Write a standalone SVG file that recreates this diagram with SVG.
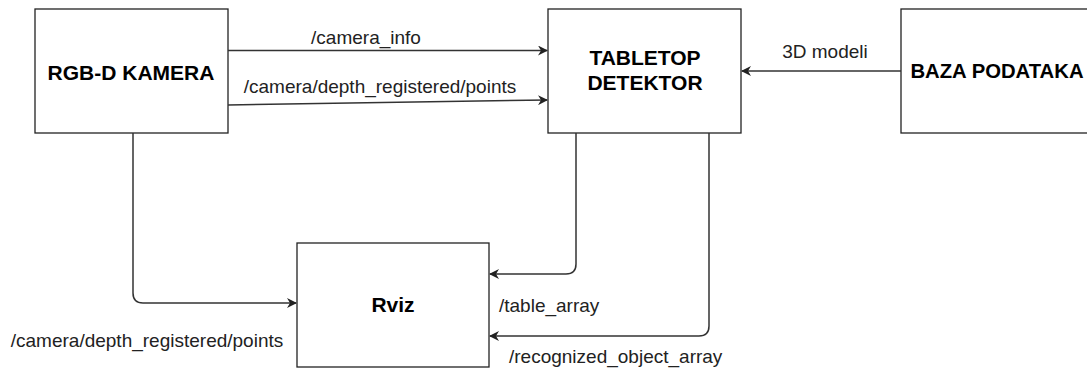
<svg xmlns="http://www.w3.org/2000/svg" width="1087" height="369" viewBox="0 0 1087 369">
<style>
.box{fill:#fff;stroke:#222;stroke-width:1.3}
.title{font-family:"Liberation Sans",Arial,sans-serif;font-weight:bold;font-size:21px;fill:#000;text-anchor:middle}
.lbl{font-family:"Liberation Sans",Arial,sans-serif;font-size:19px;fill:#222}
.edge{fill:none;stroke:#333;stroke-width:1.5}
</style>
<defs>
<marker id="arr" viewBox="0 0 10 10" refX="9" refY="5" markerWidth="10" markerHeight="10" markerUnits="userSpaceOnUse" orient="auto">
<path d="M0,0 L10,5 L0,10 L3,5 Z" fill="#222"/>
</marker>
</defs>
<rect width="1087" height="369" fill="#fff"/>
<g id="rgbd">
<rect class="box" x="35" y="9" width="193" height="124"/>
<text class="title" x="131" y="80">RGB-D KAMERA</text>
</g>
<g id="tabletop">
<rect class="box" x="548" y="9" width="193" height="124"/>
<text class="title" x="645" y="65">TABLETOP</text>
<text class="title" x="645" y="90">DETEKTOR</text>
</g>
<g id="baza">
<rect class="box" x="901" y="9" width="193" height="124"/>
<text class="title" x="997" y="78" style="font-size:20.3px">BAZA PODATAKA</text>
</g>
<g id="rviz">
<rect class="box" x="297" y="243" width="192" height="124"/>
<text class="title" x="393" y="312">Rviz</text>
</g>
<g id="connectors">
<path class="edge" d="M228,50.5 H547" marker-end="url(#arr)"/>
<path class="edge" d="M228,105 L547,100" marker-end="url(#arr)"/>
<path class="edge" d="M901,71 H742" marker-end="url(#arr)"/>
<path class="edge" d="M133,133 V293 Q133,303 143,303 H296" marker-end="url(#arr)"/>
<path class="edge" d="M576,133 V264 Q576,274 566,274 H490" marker-end="url(#arr)"/>
<path class="edge" d="M709,133 V326 Q709,336 699,336 H490" marker-end="url(#arr)"/>
<text class="lbl" x="366" y="44" text-anchor="middle">/camera_info</text>
<text class="lbl" x="380" y="93" text-anchor="middle">/camera/depth_registered/points</text>
<text class="lbl" x="825" y="58" text-anchor="middle">3D modeli</text>
<text class="lbl" x="147" y="347" text-anchor="middle">/camera/depth_registered/points</text>
<text class="lbl" x="499" y="312">/table_array</text>
<text class="lbl" x="509" y="363">/recognized_object_array</text>
</g>
</svg>
